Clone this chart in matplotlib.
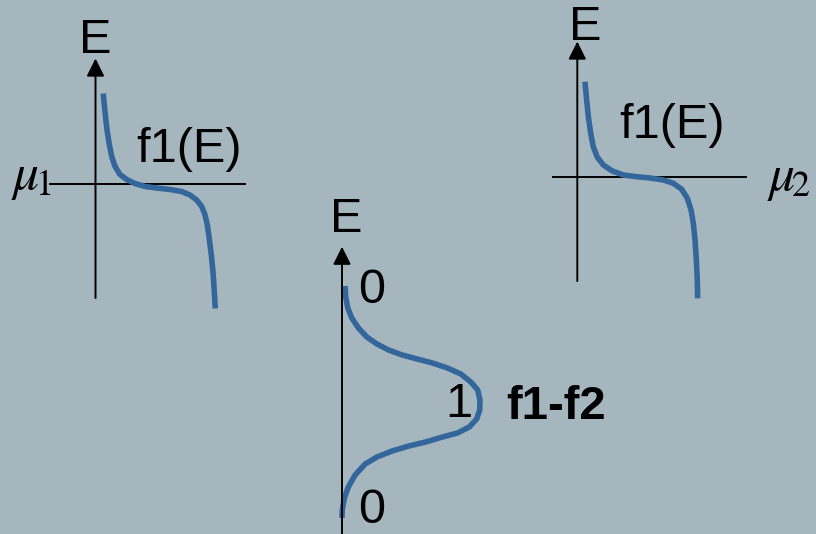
import matplotlib
matplotlib.use("Agg")
import matplotlib.pyplot as plt

plt.rcParams['font.family'] = ['Liberation Sans', 'DejaVu Sans']
plt.rcParams['mathtext.fontset'] = 'stix'

BG = '#a5b6bf'
CURVE = '#33669a'

# occupancy f (horizontal) against energy E - mu (vertical), lead 1
f1_occ = [0.065, 0.073, 0.085, 0.098, 0.115, 0.135, 0.163, 0.204, 0.26, 0.329, 0.413, 0.51,
          0.621, 0.718, 0.788, 0.843, 0.885, 0.913, 0.932, 0.948, 0.965, 0.979, 0.99, 0.998]
f1_energy = [0.91, 0.80, 0.66, 0.53, 0.40, 0.28, 0.18, 0.10, 0.05, 0.01, -0.02, -0.035,
             -0.05, -0.07, -0.105, -0.155, -0.22, -0.305, -0.405, -0.54, -0.705, -0.87, -1.07, -1.24]

# lead 2
f2_occ = [0.064, 0.078, 0.092, 0.112, 0.133, 0.167, 0.217, 0.287, 0.383, 0.495, 0.606,
          0.717, 0.8, 0.87, 0.917, 0.948, 0.967, 0.981, 0.992, 1.0, 1.003]
f2_energy = [0.956, 0.773, 0.606, 0.44, 0.306, 0.2, 0.123, 0.066, 0.023, 0.006, -0.007,
             -0.027, -0.06, -0.12, -0.21, -0.327, -0.46, -0.627, -0.827, -1.027, -1.21]

# difference f1 - f2, energy measured from the middle of the window
diff_occ = [0.022, 0.027, 0.042, 0.071, 0.119, 0.18, 0.253, 0.338, 0.436, 0.545, 0.655,
            0.764, 0.861, 0.934, 0.983, 1.0, 0.998, 0.976, 0.922, 0.837, 0.728, 0.606,
            0.484, 0.363, 0.253, 0.168, 0.095, 0.046, 0.017, 0.002, 0.0]
diff_energy = [1.14, 1.03, 0.92, 0.82, 0.72, 0.63, 0.56, 0.50, 0.45, 0.41, 0.37,
               0.32, 0.26, 0.18, 0.10, 0.0, -0.10, -0.19, -0.27, -0.33, -0.37, -0.42,
               -0.46, -0.51, -0.57, -0.64, -0.75, -0.87, -0.98, -1.10, -1.18]
diff_ticks = [0, 1, 0]

W, H = 816, 534
FS = 35
MU_FS = 37
fig = plt.figure(figsize=(W / 100, H / 100), dpi=100, facecolor=BG)


def panel(x0, y0, sx, sy):
    # full-figure axes whose unit origin sits at pixel (x0, y0)
    ax = fig.add_axes([0, 0, 1, 1])
    ax.set_xlim(-x0 / sx, (W - x0) / sx)
    ax.set_ylim((y0 - H) / sy, y0 / sy)
    ax.axis('off')
    ax.patch.set_alpha(0)
    return ax


def e_axis(ax, bottom, top):
    ax.annotate('', xy=(0, top), xytext=(0, bottom),
                arrowprops=dict(arrowstyle='-|>,head_length=0.6,head_width=0.3',
                                mutation_scale=18, lw=1.4, color='black',
                                shrinkA=0, shrinkB=0))


# left lead
ax1 = panel(95.5, 184.5, 120, 100)
ax1.plot([-0.379, 1.246], [0, 0], color='black', lw=1.4)
e_axis(ax1, -1.135, 1.26)
ax1.plot(f1_occ, f1_energy, color=CURVE, lw=4.0, solid_capstyle='butt', solid_joinstyle='round')
ax1.text(0, 1.315, 'E', fontsize=FS, ha='center', va='baseline')
ax1.text(0.78, 0.22, 'f1(E)', fontsize=FS, ha='center', va='baseline')
ax1.text(-0.37, -0.05, r'$\mu_{\!1}$', fontsize=MU_FS, ha='right', va='baseline')

# right lead
ax2 = panel(577.3, 177.3, 120, 100)
ax2.plot([-0.2025, 1.406], [0, 0], color='black', lw=1.4)
e_axis(ax2, -1.037, 1.358)
ax2.plot(f2_occ, f2_energy, color=CURVE, lw=4.0, solid_capstyle='butt', solid_joinstyle='round')
ax2.text(0.064, 1.373, 'E', fontsize=FS, ha='center', va='baseline')
ax2.text(0.787, 0.39, 'f1(E)', fontsize=FS, ha='center', va='baseline')
ax2.text(1.58, -0.125, r'$\mu_{\!2}$', fontsize=MU_FS, ha='left', va='baseline')

# transmission window f1 - f2
ax3 = panel(342, 400, 138, 100)
e_axis(ax3, -1.5, 1.533)
ax3.plot(diff_occ, diff_energy, color=CURVE, lw=4.0, solid_capstyle='butt', solid_joinstyle='round')
ax3.text(0.029, 1.683, 'E', fontsize=FS, ha='center', va='baseline')
for (gx, ey), val in zip([(0.214, 0.97), (0.848, -0.17), (0.214, -1.23)], diff_ticks):
    ax3.text(gx, ey, str(val), fontsize=FS, ha='center', va='baseline')
ax3.text(1.55, -0.19, 'f1-f2', fontsize=34, fontweight='bold', ha='center', va='baseline')

fig.savefig('out.png', dpi=100, facecolor=BG)
